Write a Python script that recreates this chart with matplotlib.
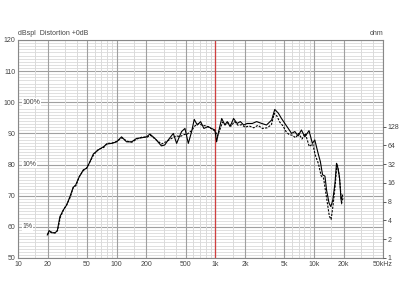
import numpy as np
import matplotlib
matplotlib.use("Agg")
import matplotlib.pyplot as plt

plt.rcParams["font.family"] = ["Liberation Sans", "DejaVu Sans"]

# SPL response, solid trace (Hz, dB)
freq_solid = [19.8, 20.7, 21.9, 23.7, 25.0, 26.6, 28.8, 31.1, 33.6, 36.3, 38.4,
              41.5, 45.9, 49.6, 53.6, 58.0, 65.0, 73.3, 79.3, 89.0, 100, 112,
              126, 142, 159, 179, 201, 217, 244, 284, 307, 333, 375, 405, 431,
              455, 492, 532, 575, 611, 656, 709, 765, 845, 914, 990, 1030, 1080,
              1160, 1250, 1320, 1410, 1530, 1660, 1790, 1940, 2100, 2370, 2620,
              2950, 3300, 3720, 4000, 4350, 4680, 5060, 5480, 5920, 6390, 6900,
              7450, 8070, 8900, 9620, 10180, 11000, 11600, 12200, 12900, 13400,
              14200, 14800, 15500, 16300, 16900, 17200, 18100, 18800, 19500]
spl_solid = [57.4, 58.8, 58.1, 58.1, 58.7, 63.3, 65.4, 67.0, 69.7, 72.7, 73.4,
             75.9, 78.3, 78.8, 80.9, 83.4, 84.7, 85.7, 86.6, 86.8, 87.3, 88.9,
             87.3, 87.3, 88.4, 88.6, 88.9, 89.8, 88.4, 86.0, 86.3, 87.9, 90.0,
             86.8, 88.9, 90.6, 91.6, 86.8, 90.6, 94.5, 92.7, 93.8, 91.6, 92.2,
             91.6, 91.1, 87.3, 90.6, 94.8, 92.7, 93.8, 92.2, 94.8, 93.2, 93.8,
             92.7, 93.2, 93.2, 93.8, 93.2, 92.7, 94.3, 97.7, 96.5, 94.8, 93.2,
             91.6, 90.0, 90.6, 89.2, 91.1, 88.9, 90.9, 86.8, 87.9, 83.6, 80.9,
             76.7, 76.3, 71.8, 67.6, 66.5, 68.6, 74.0, 80.4, 79.9, 76.1, 68.6,
             70.2]

# second trace, dashed
freq_dash = [20.0, 20.8, 22.0, 23.8, 25.2, 26.8, 29.0, 31.3, 33.8, 36.5, 38.6,
             41.7, 46.0, 50.0, 54.0, 58.5, 65.5, 74.0, 80.0, 90.0, 101, 113,
             127, 143, 160, 180, 203, 220, 250, 285, 320, 360, 400, 440, 480,
             520, 570, 620, 680, 740, 810, 880, 950, 1000, 1050, 1100, 1180,
             1260, 1350, 1450, 1560, 1700, 1850, 2000, 2200, 2450, 2700, 3000,
             3350, 3700, 3950, 4200, 4500, 4850, 5200, 5600, 6050, 6500, 7000,
             7550, 8150, 8950, 9700, 10300, 11100, 11800, 12500, 13300, 14300,
             14900, 15600, 16400, 17000, 17600, 18300, 19000, 19700]
spl_dash = [57.6, 58.4, 58.3, 58.0, 58.9, 63.0, 65.6, 67.2, 69.5, 72.9, 73.2,
            76.1, 78.1, 79.0, 81.1, 83.2, 84.9, 85.5, 86.8, 86.9, 87.5, 88.6,
            87.5, 87.2, 88.2, 88.8, 88.8, 89.4, 88.0, 86.6, 87.4, 88.4, 89.2,
            89.0, 89.6, 89.8, 90.8, 92.4, 93.2, 92.6, 92.4, 91.8, 91.2, 90.6,
            89.2, 90.8, 93.6, 92.8, 93.4, 92.4, 93.8, 92.6, 92.8, 92.0, 92.4,
            91.8, 92.6, 91.6, 91.8, 92.8, 96.4, 95.6, 93.6, 92.4, 90.6, 89.6,
            89.4, 88.6, 90.0, 88.2, 90.0, 85.8, 86.6, 83.0, 80.2, 76.4, 75.6,
            70.0, 63.4, 62.4, 67.0, 73.4, 79.6, 78.6, 74.4, 67.4, 69.4]

x_ticks = [10, 20, 50, 100, 200, 500, 1000, 2000, 5000, 10000, 20000, 50000]
x_labels = ["10", "20", "50", "100", "200", "500", "1k", "2k", "5k", "10k",
            "20k", "50kHz"]
y_ticks = [50, 60, 70, 80, 90, 100, 110, 120]
pct_marks = {100: "100%", 80: "10%", 60: "1%"}
ohm_ticks = [1, 2, 4, 8, 16, 32, 64, 128]

fig = plt.figure(figsize=(4, 3), dpi=100)
ax = fig.add_axes([0.045, 0.14, 0.9125, 0.7267])

ax.set_xscale("log")
ax.set_xlim(10, 50000)
ax.set_ylim(50, 120)

# grid
minor_col = "#dadada"
major_col = "#a0a0a0"
for db in range(51, 120):
    if db % 10:
        ax.axhline(db, color=minor_col, lw=0.6, zorder=0)
for db in y_ticks:
    ax.axhline(db, color=major_col, lw=0.8, zorder=0)
for dec in [10, 100, 1000, 10000]:
    for m in [1, 1.5, 2, 3, 4, 5, 6, 7, 8, 9]:
        f = dec * m
        if f in x_ticks:
            continue
        ax.axvline(f, color=minor_col, lw=0.7, zorder=0)
for f in x_ticks:
    ax.axvline(f, color=major_col, lw=0.8, zorder=0)
ax.axvline(1000, color="#d04040", lw=0.9, zorder=1)

ax.plot(freq_dash, spl_dash, color="black", lw=0.8, ls=(0, (2, 1.2)), zorder=3)
ax.plot(freq_solid, spl_solid, color="black", lw=0.8, zorder=4)

ax.set_xticks(x_ticks)
ax.set_xticklabels(x_labels)
ax.xaxis.set_minor_locator(matplotlib.ticker.NullLocator())
ax.set_yticks(y_ticks)
ax.tick_params(labelsize=5, length=0, pad=2, colors="#444444")
for s in ax.spines.values():
    s.set_color("#888888")
    s.set_linewidth(0.8)

for db, txt in pct_marks.items():
    ax.text(11.2, db, txt, fontsize=5, color="#444444", va="center",
            ha="left", zorder=5,
            bbox=dict(facecolor="white", edgecolor="none", pad=0.3))

ax.text(0.0, 1.012, "dBspl  Distortion +0dB", transform=ax.transAxes,
        fontsize=5, color="#444444", ha="left", va="bottom")
ax.text(1.0, 1.012, "ohm", transform=ax.transAxes,
        fontsize=5, color="#444444", ha="right", va="bottom")

# impedance axis: 6 dB per doubling, 1 ohm at 50 dB
ax2 = ax.twinx()
ax2.set_yscale("log", base=2)
ax2.set_ylim(1, 10 ** (70 / 20))
ax2.set_yticks(ohm_ticks)
ax2.set_yticklabels([str(v) for v in ohm_ticks])
ax2.yaxis.set_minor_locator(matplotlib.ticker.NullLocator())
ax2.tick_params(labelsize=5, length=2.5, width=0.6, pad=1, colors="#444444")
for s in ax2.spines.values():
    s.set_visible(False)

fig.savefig("out.png", dpi=100)
